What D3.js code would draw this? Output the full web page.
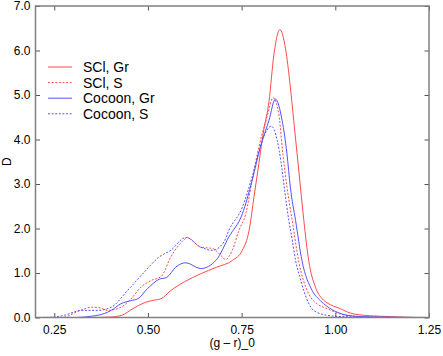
<!DOCTYPE html>
<html>
<head>
<meta charset="utf-8">
<script src="https://cdn.jsdelivr.net/npm/d3@7"></script>
<style>
html,body{margin:0;padding:0;background:#fff;}
svg{display:block;font-family:"Liberation Sans",Arial,Helvetica,sans-serif;}
</style>
</head>
<body>
<svg id="chart" width="443" height="356"></svg>
<script>
// ---- data ----
const seriesNames = ["SCl, Gr", "SCl, S", "Cocoon, Gr", "Cocoon, S"];
const seriesColors = ["#ff4a4a", "#ff4a4a", "#5252ff", "#5252ff"];
const seriesDashed = [false, true, false, true];

const sclGrX = [0.20,0.35,0.40,0.43,0.46,0.49,0.51,0.535,0.56,0.597,0.64,0.683,0.725,0.752,0.77,0.783,0.796,0.809,0.823,0.836,0.852,0.867,0.88,0.889,0.898,0.907,0.916,0.929,0.947,0.965,0.978,1.013,1.04,1.09,1.15,1.21,1.25];
const sclGrY = [0,0,0.01,0.05,0.2,0.33,0.38,0.42,0.6,0.8,0.98,1.13,1.28,1.51,1.96,2.71,3.46,4.21,4.85,5.9,6.47,6.05,5.18,4.43,3.68,2.93,2.18,1.28,0.68,0.42,0.33,0.2,0.1,0.04,0.02,0,0];

const sclSX = [0.20,0.27,0.32,0.35,0.37,0.393,0.428,0.455,0.481,0.508,0.535,0.561,0.585,0.606,0.641,0.672,0.699,0.707,0.725,0.743,0.761,0.778,0.796,0.818,0.834,0.849,0.86,0.871,0.885,0.902,0.929,0.951,0.978,1.013,1.05,1.10,1.25];
const sclSY = [0,0,0.16,0.23,0.22,0.16,0.23,0.42,0.68,0.83,0.92,1.36,1.65,1.79,1.58,1.55,1.36,1.30,1.51,1.96,2.33,3.08,3.83,4.51,4.94,4.58,3.68,2.93,2.18,1.28,0.53,0.31,0.2,0.08,0.03,0.01,0];

const cocGrX = [0.20,0.30,0.366,0.402,0.428,0.455,0.473,0.499,0.53,0.55,0.574,0.601,0.641,0.683,0.716,0.752,0.778,0.80,0.823,0.840,0.858,0.871,0.88,0.894,0.911,0.938,0.96,0.978,1.005,1.031,1.07,1.12,1.25];
const cocGrY = [0,0,0.05,0.16,0.31,0.38,0.42,0.65,0.86,0.9,1.13,1.23,1.10,1.30,1.81,2.33,3.08,3.83,4.43,4.91,4.43,3.68,2.93,2.18,1.28,0.61,0.38,0.25,0.12,0.05,0.02,0.01,0];

const cocSX = [0.20,0.25,0.277,0.322,0.366,0.402,0.446,0.49,0.53,0.561,0.601,0.641,0.672,0.703,0.716,0.752,0.778,0.805,0.829,0.845,0.855,0.865,0.876,0.885,0.894,0.905,0.916,0.942,0.978,1.02,1.25];
const cocSY = [0,0.01,0.05,0.16,0.16,0.23,0.61,1.02,1.36,1.51,1.80,1.58,1.51,1.70,1.96,2.48,3.16,3.98,4.30,3.98,3.5,2.85,2.18,1.75,1.28,0.92,0.6,0.16,0.05,0.02,0];

const seriesX = [sclGrX, sclSX, cocGrX, cocSX];
const seriesY = [sclGrY, sclSY, cocGrY, cocSY];

const xTicks = [0.25, 0.50, 0.75, 1.00, 1.25];
const yTicks = [0, 1, 2, 3, 4, 5, 6, 7];
const xLabel = "(g – r)_0";
const yLabel = "D";

// ---- layout ----
const svg = d3.select("#chart");
const L = 35.5, R = 429, T = 6, B = 317.5;
const x = d3.scaleLinear().domain([0.2, 1.25]).range([L, R]);
const y = d3.scaleLinear().domain([0, 7]).range([B, T]);
const frameColor = "#808080";

svg.append("defs").append("clipPath").attr("id", "clip")
  .append("rect").attr("x", L).attr("y", T).attr("width", R - L).attr("height", B - T);

const line = d3.line().x(d => x(d[0])).y(d => y(d[1])).curve(d3.curveMonotoneX);

const g = svg.append("g").attr("clip-path", "url(#clip)");
seriesNames.forEach((n, i) => {
  const pts = seriesX[i].map((v, j) => [v, seriesY[i][j]]);
  g.append("path").datum(pts)
    .attr("d", line)
    .attr("fill", "none")
    .attr("stroke", seriesColors[i])
    .attr("stroke-width", 1)
    .attr("stroke-dasharray", seriesDashed[i] ? "2,1.6" : null);
});

// axes (inward ticks, all four sides)
const tickLen = 4.5;
const axB = d3.axisBottom(x).tickValues(xTicks).tickFormat(d3.format(".2f")).tickSizeInner(-tickLen).tickSizeOuter(0).tickPadding(8);
const axT = d3.axisTop(x).tickValues(xTicks).tickFormat("").tickSizeInner(-tickLen).tickSizeOuter(0);
const axL = d3.axisLeft(y).tickValues(yTicks).tickFormat(d3.format(".1f")).tickSizeInner(-tickLen).tickSizeOuter(0).tickPadding(5);
const axR = d3.axisRight(y).tickValues(yTicks).tickFormat("").tickSizeInner(-tickLen).tickSizeOuter(0);

function style(sel) {
  sel.select(".domain").remove();
  sel.selectAll(".tick line").attr("stroke", "#555").attr("stroke-width", 1);
  sel.selectAll(".tick text").attr("fill", "#000").style("font-size", "12px")
    .style("font-family", '"Liberation Sans",Arial,Helvetica,sans-serif');
}
svg.append("g").attr("transform", `translate(0,${B})`).call(axB).call(style);
svg.append("g").attr("transform", `translate(0,${T})`).call(axT).call(style);
svg.append("g").attr("transform", `translate(${L},0)`).call(axL).call(style);
svg.append("g").attr("transform", `translate(${R},0)`).call(axR).call(style);

svg.append("rect").attr("x", L).attr("y", T).attr("width", R - L).attr("height", B - T)
  .attr("fill", "none").attr("stroke", frameColor).attr("stroke-width", 1.5);

// axis labels
svg.append("text").attr("x", (L + R) / 2).attr("y", 347).attr("text-anchor", "middle")
  .style("font-size", "12px").text(xLabel);
svg.append("text").attr("transform", `translate(11,${(T + B) / 2}) rotate(-90)`)
  .attr("text-anchor", "middle").style("font-size", "12px").text(yLabel);

// legend
const leg = svg.append("g");
seriesNames.forEach((n, i) => {
  const ly = 67 + i * 15.6;
  leg.append("line").attr("x1", 48).attr("x2", 72).attr("y1", ly).attr("y2", ly)
    .attr("stroke", seriesColors[i]).attr("stroke-width", 1)
    .attr("stroke-dasharray", seriesDashed[i] ? "2,1.6" : null);
  leg.append("text").attr("x", 83).attr("y", ly + 5).style("font-size", "14px").text(n);
});
</script>
</body>
</html>
